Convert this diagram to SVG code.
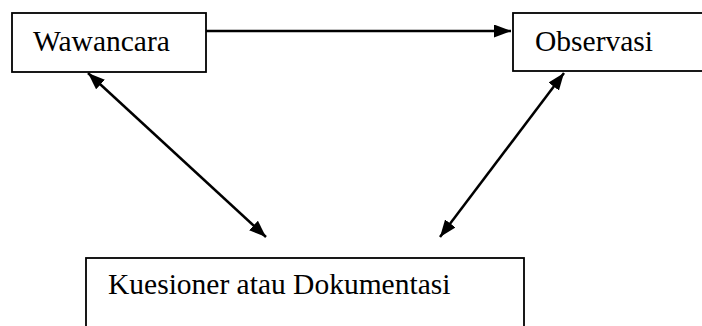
<svg xmlns="http://www.w3.org/2000/svg" width="702" height="326" viewBox="0 0 702 326">
<style>
.box{fill:#fff;stroke:#000;stroke-width:1.8}
.lbl{font-family:"Liberation Serif","Times New Roman",serif;font-size:29.5px;fill:#000}
.conn{stroke:#000;stroke-width:2.5;fill:none}
</style>
<defs>
<marker id="ah" viewBox="0 0 17 13" refX="17" refY="6.5" markerWidth="17" markerHeight="13" markerUnits="userSpaceOnUse" orient="auto-start-reverse">
<path d="M0,0 L17,6.5 L0,13 z" fill="#000"/>
</marker>
</defs>
<rect width="702" height="326" fill="#fff"/>
<g id="wawancara">
<rect class="box" x="12" y="13" width="194" height="59"/>
<text class="lbl" x="33" y="51">Wawancara</text>
</g>
<g id="observasi">
<rect class="box" x="513" y="13" width="200" height="58"/>
<text class="lbl" x="535" y="51">Observasi</text>
</g>
<g id="kuesioner">
<rect class="box" x="86" y="258" width="438" height="90"/>
<text class="lbl" x="108" y="294">Kuesioner atau Dokumentasi</text>
</g>
<g id="connectors">
<line class="conn" x1="206" y1="31" x2="511" y2="31" marker-end="url(#ah)"/>
<line class="conn" x1="88" y1="73" x2="266" y2="237" marker-start="url(#ah)" marker-end="url(#ah)"/>
<line class="conn" x1="564" y1="73" x2="440" y2="237" marker-start="url(#ah)" marker-end="url(#ah)"/>
</g>
</svg>
